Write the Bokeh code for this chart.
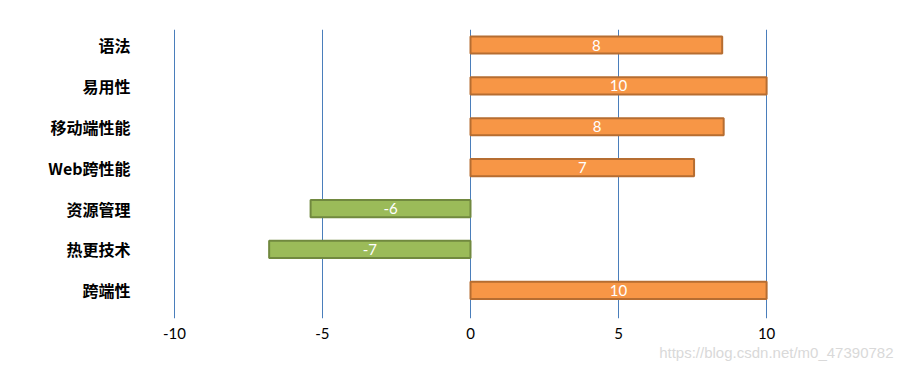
from bokeh.plotting import figure
from bokeh.models import Range1d, Title, FixedTicker, ColumnDataSource
from bokeh.core.properties import value
from bokeh.embed import file_html
from bokeh.resources import INLINE

categories = ["语法", "易用性", "移动端性能", "Web跨性能", "资源管理", "热更技术", "跨端性"]
values = [8.5, 10, 8.55, 7.55, -5.4, -6.8, 10]
labels = ["8", "10", "8", "7", "-6", "-7", "10"]
x_ticks = [-10, -5, 0, 5, 10]
x_tick_labels = ["-10", "-5", "0", "5", "10"]
watermark = "https://blog.csdn.net/m0_47390782"

pos = list(range(len(categories)))
fill = ["#F79646" if v >= 0 else "#9BBB59" for v in values]
line = ["#B66D31" if v >= 0 else "#71893F" for v in values]
mid = [v / 2 for v in values]

src = ColumnDataSource(dict(y=pos, right=values, left=[0] * len(values), fill=fill,
                            line=line, mid=mid, label=labels))

p = figure(width=894, height=368, output_backend="svg", toolbar_location=None,
           x_range=Range1d(-10.3, 10.3), y_range=Range1d(6.69, -0.38),
           min_border_left=165, min_border_right=119, min_border_top=29, min_border_bottom=50)
p.outline_line_color = None
p.background_fill_color = "white"
p.border_fill_color = "white"

p.hbar(y="y", left="left", right="right", height=0.42, fill_color="fill",
       line_color="line", line_width=2, source=src)
p.text(x="mid", y="y", text="label", text_color="white", text_align="center",
       text_baseline="middle", text_font=value("Lato"), text_font_size="15px", source=src)

p.xaxis.ticker = FixedTicker(ticks=x_ticks)
p.xaxis.major_label_overrides = dict(zip(x_ticks, x_tick_labels))
p.xgrid.ticker = FixedTicker(ticks=x_ticks)
p.xgrid.grid_line_color = "#4A7EBB"
p.xgrid.grid_line_width = 1
p.ygrid.grid_line_color = None

p.yaxis.ticker = FixedTicker(ticks=pos)
p.yaxis.major_label_overrides = {i: c for i, c in enumerate(categories)}

for ax in (p.xaxis[0], p.yaxis[0]):
    ax.axis_line_color = None
    ax.major_tick_line_color = None
    ax.minor_tick_line_color = None
    ax.major_tick_out = 0
    ax.major_tick_in = 0
    ax.major_label_text_color = "black"

p.xaxis.major_label_text_font = "Lato"
p.xaxis.major_label_text_font_size = "15px"
p.xaxis.major_label_standoff = 9
p.yaxis.major_label_text_font = "Noto Sans CJK SC"
p.yaxis.major_label_text_font_style = "bold"
p.yaxis.major_label_text_font_size = "16px"
p.yaxis.major_label_standoff = 35

p.add_layout(Title(text=watermark, align="right", offset=-118, standoff=0,
                   text_color="#D9D9D9", text_font="Liberation Sans",
                   text_font_size="15px", text_font_style="normal"), "below")

open("out.html", "w").write(file_html(p, INLINE))
